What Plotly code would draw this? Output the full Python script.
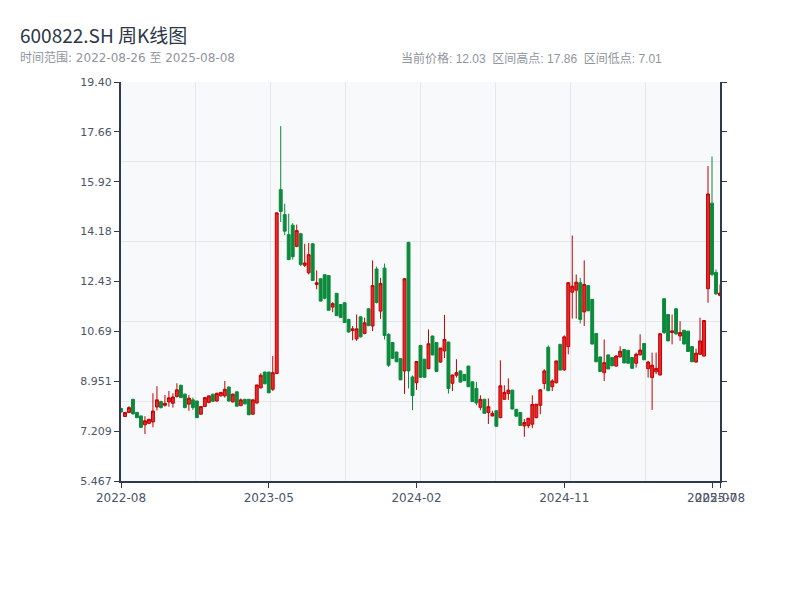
import plotly.graph_objects as go
from datetime import date, timedelta

# ---------------- data ----------------
start_date = "2022-08-26"
end_date = "2025-08-08"
holiday_weeks = ["2022-10-07", "2023-01-27", "2023-10-06", "2024-02-16"]

_d = date.fromisoformat(start_date)
dates = []
while _d <= date.fromisoformat(end_date):
    if _d.isoformat() not in holiday_weeks:
        dates.append(_d.isoformat())
    _d += timedelta(days=7)

opens = [8.00, 7.72, 7.86, 8.32, 7.86, 7.74, 7.43, 7.48, 7.53, 8.05,
         8.24, 8.11, 8.23, 8.18, 8.42, 8.81, 8.50, 8.15, 8.30, 8.26,
         7.80, 8.07, 8.21, 8.50, 8.26, 8.44, 8.44, 8.75, 8.23, 8.58,
         8.10, 8.32, 8.32, 7.80, 8.19, 8.72, 9.27, 9.27, 8.67, 9.22,
         15.64, 14.77, 14.07, 14.40, 13.66, 14.10, 13.00, 12.74, 13.75, 12.33,
         12.53, 12.67, 12.64, 11.54, 12.02, 11.63, 11.69, 11.11, 10.72, 10.43,
         11.20, 10.62, 11.48, 10.88, 12.87, 11.40, 12.90, 10.59, 10.30, 9.97,
         9.74, 9.31, 13.80, 9.10, 8.90, 10.20, 9.72, 9.39, 10.53, 10.30,
         9.62, 10.01, 10.32, 8.88, 9.16, 9.31, 9.19, 9.48, 8.93, 8.70,
         8.04, 8.32, 7.86, 7.74, 7.92, 7.68, 8.32, 8.52, 8.64, 7.97,
         7.86, 7.39, 7.40, 7.45, 7.68, 8.11, 8.87, 10.14, 8.76, 8.90,
         10.24, 9.35, 10.16, 12.06, 12.13, 12.39, 11.37, 12.29, 11.81, 10.62,
         9.80, 9.25, 9.87, 9.78, 9.48, 9.80, 10.06, 10.03, 9.78, 9.58,
         9.87, 10.27, 9.39, 9.08, 9.28, 9.17, 11.83, 11.28, 10.65, 11.48,
         10.53, 10.73, 10.70, 10.16, 9.62, 9.89, 9.83, 12.18, 15.17, 12.75,
         11.95]
highs = [8.02, 7.88, 8.08, 8.33, 7.88, 7.75, 7.73, 7.64, 8.53, 8.78,
         8.27, 8.47, 8.61, 8.53, 8.88, 8.83, 8.52, 8.47, 8.38, 8.27,
         8.07, 8.38, 8.44, 8.51, 8.55, 8.56, 8.96, 8.76, 8.52, 8.60,
         8.35, 8.33, 8.33, 8.32, 8.83, 9.23, 9.28, 9.28, 9.83, 14.85,
         17.86, 15.15, 14.80, 14.47, 14.42, 14.13, 13.75, 13.78, 13.76, 12.82,
         12.54, 12.68, 12.65, 11.71, 12.03, 11.64, 11.70, 11.13, 10.88, 11.28,
         11.21, 11.17, 11.49, 13.17, 12.95, 12.56, 13.06, 10.62, 10.31, 9.98,
         9.75, 12.55, 13.82, 9.15, 9.64, 10.21, 9.73, 10.76, 10.54, 10.31,
         10.11, 11.27, 10.33, 9.17, 9.72, 9.33, 9.20, 9.49, 8.94, 8.93,
         8.46, 8.33, 8.35, 7.92, 7.93, 9.68, 8.81, 9.05, 8.65, 7.98,
         7.87, 7.63, 7.66, 8.46, 8.15, 8.67, 9.37, 10.20, 9.02, 9.66,
         10.25, 10.55, 12.41, 14.04, 12.68, 12.56, 13.17, 12.30, 11.82, 10.63,
         9.81, 10.41, 9.88, 9.79, 9.86, 10.17, 10.07, 10.04, 9.79, 9.95,
         10.59, 10.28, 9.66, 9.95, 9.95, 10.61, 11.84, 11.29, 11.28, 11.49,
         11.05, 10.74, 10.71, 10.17, 10.09, 11.17, 11.07, 16.47, 16.80, 12.85,
         12.33]
lows = [7.86, 7.70, 7.84, 7.80, 7.66, 7.32, 7.11, 7.45, 7.34, 7.93,
        8.00, 8.06, 8.06, 8.03, 8.38, 8.36, 8.01, 7.92, 7.95, 7.67,
        7.78, 8.05, 8.18, 8.23, 8.24, 8.42, 8.38, 8.24, 8.21, 8.07,
        8.08, 8.15, 7.77, 7.78, 8.18, 8.70, 8.85, 8.53, 8.61, 9.20,
        14.51, 14.05, 13.18, 13.20, 13.63, 12.97, 12.94, 12.68, 12.45, 12.16,
        11.74, 11.81, 11.42, 11.36, 11.23, 11.17, 10.99, 10.65, 10.38, 10.36,
        10.48, 10.59, 10.88, 10.70, 11.67, 11.13, 10.41, 9.45, 9.74, 9.62,
        8.99, 8.51, 8.70, 7.94, 8.65, 9.08, 9.08, 9.37, 9.86, 9.28,
        9.60, 9.76, 8.52, 8.61, 9.08, 8.90, 8.96, 8.75, 8.23, 8.11,
        7.94, 7.82, 7.46, 7.72, 7.37, 7.66, 8.31, 8.30, 7.97, 7.72,
        7.40, 7.01, 7.31, 7.31, 7.66, 7.80, 8.67, 8.61, 8.61, 8.87,
        9.33, 9.31, 9.89, 11.14, 11.14, 10.97, 10.88, 11.40, 10.24, 9.62,
        9.28, 8.96, 9.37, 9.48, 9.46, 9.78, 9.58, 9.57, 9.39, 9.43,
        9.86, 9.69, 9.08, 7.95, 9.20, 9.15, 10.60, 10.35, 10.24, 10.59,
        10.36, 10.24, 9.98, 9.62, 9.60, 9.89, 9.82, 11.69, 12.62, 11.98,
        11.92]
closes = [7.88, 7.86, 8.03, 7.81, 7.68, 7.34, 7.57, 7.62, 7.91, 8.30,
          8.03, 8.18, 8.37, 8.40, 8.65, 8.38, 8.03, 8.36, 8.03, 7.68,
          8.07, 8.38, 8.44, 8.25, 8.53, 8.56, 8.67, 8.26, 8.50, 8.08,
          8.30, 8.16, 7.78, 8.30, 8.82, 9.16, 8.86, 8.55, 9.25, 14.83,
          14.88, 14.19, 13.20, 13.30, 14.21, 13.03, 13.08, 13.37, 12.47, 12.39,
          11.75, 11.85, 11.43, 11.66, 11.24, 11.18, 11.00, 10.67, 10.78, 10.78,
          10.50, 10.99, 10.89, 12.29, 11.70, 12.36, 10.55, 9.51, 9.75, 9.63,
          9.00, 12.53, 9.31, 8.45, 9.64, 9.09, 9.09, 10.26, 9.87, 9.29,
          10.11, 10.41, 8.70, 9.17, 9.25, 8.92, 8.97, 8.76, 8.24, 8.19,
          8.32, 7.83, 8.06, 7.83, 7.38, 8.79, 8.56, 8.64, 7.98, 7.73,
          7.41, 7.51, 7.66, 8.14, 8.15, 8.65, 9.31, 8.62, 8.96, 9.66,
          9.34, 10.50, 12.39, 12.27, 12.41, 11.11, 12.33, 11.41, 10.25, 9.63,
          9.29, 9.60, 9.38, 9.49, 9.83, 10.00, 9.59, 9.58, 9.40, 9.89,
          10.04, 9.70, 9.62, 9.51, 9.40, 10.61, 10.65, 10.36, 10.71, 10.60,
          10.65, 10.25, 9.99, 9.63, 9.93, 10.36, 11.07, 15.49, 12.68, 12.00,
          12.03]

x_tick_index = [0, 37, 74, 111, 148, 150]
x_tick_labels = ["2022-08", "2023-05", "2024-02", "2024-11", "2025-07", "2025-08"]
y_tick_vals = [5.467, 7.209, 8.951, 10.69, 12.43, 14.18, 15.92, 17.66, 19.40]
y_tick_labels = ["5.467", "7.209", "8.951", "10.69", "12.43", "14.18", "15.92", "17.66", "19.40"]
y_range = [5.467, 19.40]

# ---------------- styles ----------------
AXIS = "#2f3b4c"
TICKTXT = "#4a5568"
GRID = "#e3e7ed"
FONT = "Liberation Sans, Noto Sans CJK SC, sans-serif"
FONT_CJK = "Noto Sans CJK SC, sans-serif"
FONT_DV = "DejaVu Sans, Noto Sans CJK SC, sans-serif"

fig = go.Figure()
fig.add_trace(go.Candlestick(
    x=dates, open=opens, high=highs, low=lows, close=closes,
    increasing=dict(line=dict(color="#c40000", width=1), fillcolor="#e82a2a"),
    decreasing=dict(line=dict(color="#0b8a3b", width=1), fillcolor="#0b8a3b"),
    whiskerwidth=0, showlegend=False,
))
# helpers so the extra axes are drawn (no marks)
fig.add_trace(go.Scatter(x=[None], y=[None], xaxis="x2", yaxis="y3", showlegend=False, hoverinfo="skip"))
fig.add_trace(go.Scatter(x=[None], y=[None], xaxis="x", yaxis="y2", showlegend=False, hoverinfo="skip"))

# page has an 8px body margin; target plot box on page: x 121..720, y 82..481
OFF = 8
W, H = 800, 600
L, T = 121 - OFF, 82 - OFF
pw, ph = 599, 399
R, B = W - L - pw, H - T - ph

def px_x(p):
    return (p - OFF - L) / pw

def px_y(p):
    return (H - B - (p - OFF)) / ph

fig.update_layout(
    width=W, height=H,
    margin=dict(l=L, r=R, t=T, b=B, autoexpand=False),
    paper_bgcolor="white",
    plot_bgcolor="#f7f9fb",
    font=dict(family=FONT, color=TICKTXT, size=11),
    boxgap=0.15, boxgroupgap=0.15,
    showlegend=False,
    xaxis=dict(
        type="category", range=[0, len(dates) - 1],
        tickvals=[dates[i] for i in x_tick_index], ticktext=x_tick_labels,
        tickangle=0, automargin=False,
        showgrid=False, zeroline=False,
        showline=True, linecolor=AXIS, linewidth=2,
        ticks="outside", ticklen=5, tickcolor=AXIS, tickwidth=1,
        tickfont=dict(size=12, color=TICKTXT, family=FONT_DV),
        rangeslider=dict(visible=False), fixedrange=True,
    ),
    yaxis=dict(
        range=y_range, tickvals=y_tick_vals, ticktext=y_tick_labels,
        automargin=False,
        showgrid=False, zeroline=False,
        showline=True, linecolor=AXIS, linewidth=2,
        ticks="outside", ticklen=5, tickcolor=AXIS, tickwidth=1,
        tickfont=dict(size=11, color=TICKTXT, family=FONT_DV),
    ),
    yaxis2=dict(
        overlaying="y", side="right", anchor="x", automargin=False,
        range=y_range, tickvals=y_tick_vals, showticklabels=False,
        showgrid=False, zeroline=False,
        showline=True, linecolor=AXIS, linewidth=2,
        ticks="outside", ticklen=5, tickcolor=AXIS, tickwidth=1,
    ),
    xaxis2=dict(
        overlaying="x", anchor="y3", range=[0, 8], dtick=1, automargin=False,
        showgrid=True, gridcolor=GRID, gridwidth=1,
        showticklabels=False, ticks="", showline=False, zeroline=False,
    ),
    yaxis3=dict(
        overlaying="y", anchor="x2", range=[0, 5], dtick=1, automargin=False,
        showgrid=True, gridcolor=GRID, gridwidth=1,
        showticklabels=False, ticks="", showline=False, zeroline=False,
    ),
)

cur = closes[-1]
hi = max(highs)
lo = min(lows)
sp = "\u00a0\u00a0"

fig.add_annotation(text="600822.SH 周K线图", xref="paper", yref="paper",
                   x=px_x(18), y=px_y(35), xanchor="left", yanchor="middle",
                   showarrow=False, font=dict(size=19, color="#2d3748", family=FONT_CJK))
fig.add_annotation(text=f"时间范围: {dates[0]} 至 {dates[-1]}", xref="paper", yref="paper",
                   x=px_x(18), y=px_y(58), xanchor="left", yanchor="middle",
                   showarrow=False, font=dict(size=12, color="#8f959e", family=FONT_DV))
fig.add_annotation(text=f"当前价格: {cur:.2f}{sp}区间高点: {hi:.2f}{sp}区间低点: {lo:.2f}",
                   xref="paper", yref="paper",
                   x=px_x(399), y=px_y(58), xanchor="left", yanchor="middle",
                   showarrow=False, font=dict(size=12, color="#8f959e", family=FONT))

fig.write_html("out.html")
